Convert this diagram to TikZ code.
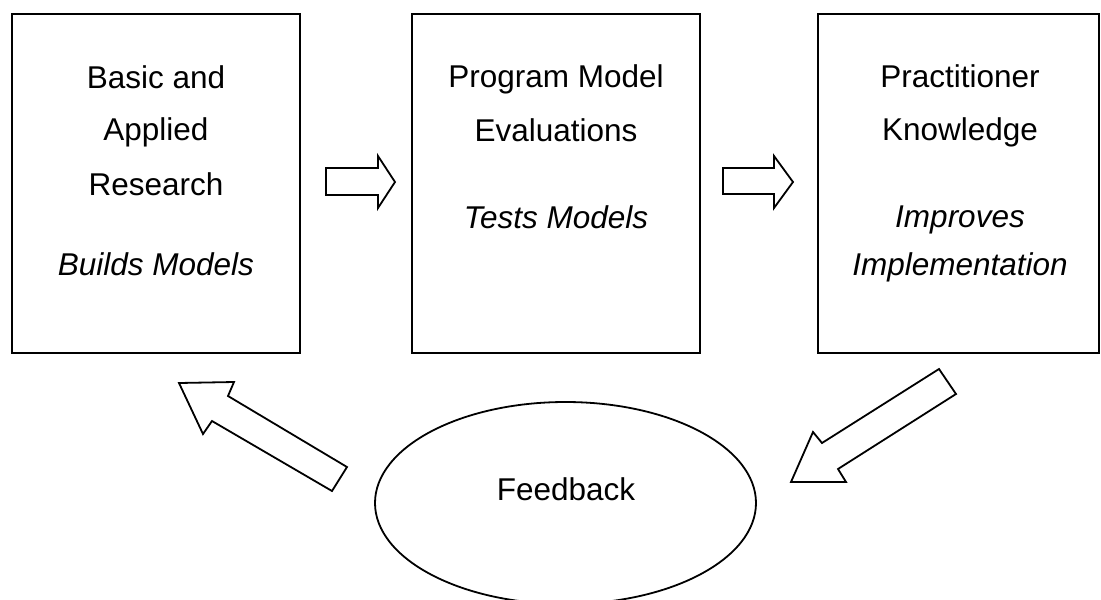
\documentclass[tikz,border=0pt]{standalone}
\usepackage{fontspec}
\setmainfont{Liberation Sans}
\usetikzlibrary{shapes.geometric}
\begin{document}
\begin{tikzpicture}[x=1pt,y=-1pt,
  boxstyle/.style={draw=black,line width=2pt,fill=white},
  txt/.style={anchor=base,inner sep=0pt,font=\fontsize{31.5}{38}\selectfont},
  itxt/.style={txt,font=\fontsize{31.5}{38}\selectfont\itshape},
  bigarrow/.style={draw=black,line width=1.8pt,fill=white,line join=miter}]
\useasboundingbox (0,0) rectangle (1101,600);
% boxes
\draw[boxstyle] (12,14) rectangle (300,353);
\draw[boxstyle] (412,14) rectangle (700,353);
\draw[boxstyle] (818,14) rectangle (1099,353);
% box 1 texts
\node[txt] (t1a) at (156,88) {Basic and};
\node[txt] (t1b) at (156,140) {Applied};
\node[txt] (t1c) at (156,195) {Research};
\node[itxt] (t1d) at (156,275) {Builds Models};
% box 2 texts
\node[txt] (t2a) at (556,87) {Program Model};
\node[txt] (t2b) at (556,141) {Evaluations};
\node[itxt] (t2c) at (556,228) {Tests Models};
% box 3 texts
\node[txt] (t3a) at (960,87) {Practitioner};
\node[txt] (t3b) at (960,140) {Knowledge};
\node[itxt] (t3c) at (960,227) {Improves};
\node[itxt] (t3d) at (960,275) {Implementation};
% ellipse
\node[draw=black,line width=1.8pt,ellipse,minimum width=381pt,minimum height=202pt,inner sep=0pt] (fb) at (565.5,503) {};
\node[txt] (fbt) at (566,500) {Feedback};
% horizontal arrows
\draw[bigarrow] (326,168) -- (378,168) -- (378,156) -- (395,182) -- (378,208) -- (378,195) -- (326,195) -- cycle;
\draw[bigarrow] (723,168) -- (774,168) -- (774,156) -- (793,182) -- (774,208) -- (774,194) -- (723,194) -- cycle;
% diagonal arrows
\draw[bigarrow] (179,383) -- (234,382) -- (228,396) -- (347,467) -- (332,491) -- (212,421) -- (203,434) -- cycle;
\draw[bigarrow] (791,482) -- (846,482) -- (838,469) -- (956,394) -- (939,369) -- (822,443) -- (813,432) -- cycle;
\end{tikzpicture}
\end{document}
